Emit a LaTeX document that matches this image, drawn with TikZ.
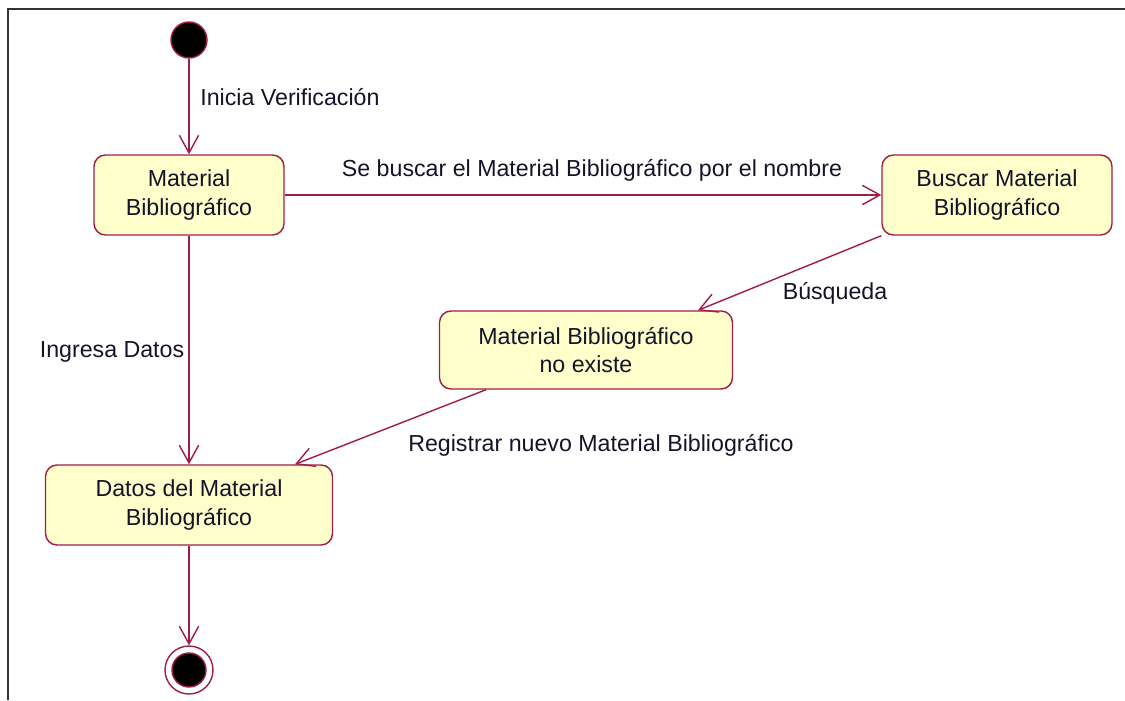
\documentclass[tikz,border=0pt]{standalone}
\usepackage{fontspec}
\setmainfont{Liberation Sans}
\usetikzlibrary{arrows.meta}
\definecolor{umlred}{RGB}{160,30,70}
\definecolor{umlfill}{RGB}{255,255,204}
\definecolor{txt}{RGB}{20,20,40}
\tikzset{
  state/.style={draw=umlred, fill=umlfill, line width=0.8pt, rounded corners=6.5pt,
    align=center, text=txt, font=\fontsize{13.2}{16}\selectfont, inner sep=0pt},
  lbl/.style={text=txt, font=\fontsize{13.2}{16}\selectfont, inner sep=0pt},
  trans/.style={draw=umlred, line width=0.8pt, -{Straight Barb[length=10pt,width=11pt,line width=0.8pt]}}
}
\begin{document}
\begin{tikzpicture}[x=0.02cm, y=-0.02cm]
\useasboundingbox (0,0) rectangle (1125,700);
\draw[line width=1.2pt, black!80] (1125,9) -- (8,9) -- (8,700);

\node[circle, fill=black, draw=umlred, line width=0.8pt, minimum size=36*0.02cm, inner sep=0pt] (start) at (189,40) {};
\node[state, minimum width=3.8cm, minimum height=1.6cm] (A) at (189,195) {Material\\Bibliográfico};
\node[state, minimum width=4.6cm, minimum height=1.6cm] (B) at (997,195) {Buscar Material\\Bibliográfico};
\node[state, minimum width=5.86cm, minimum height=1.56cm] (C) at (586,350) {Material Bibliográfico\\no existe};
\node[state, minimum width=5.74cm, minimum height=1.6cm] (D) at (189,505) {Datos del Material\\Bibliográfico};
\node[circle, fill=white, draw=umlred, line width=0.8pt, minimum size=48*0.02cm, inner sep=0pt] (endo) at (189,670) {};
\node[circle, fill=black, draw=umlred, line width=0.8pt, minimum size=34*0.02cm, inner sep=0pt] (endi) at (189,670) {};

\draw[trans] (start) -- (A);
\draw[trans] (A) -- (B);
\draw[trans] (B.south west) -- ([xshift=2.24cm]C.north);
\draw[trans] ([xshift=-2cm]C.south) -- ([xshift=2.12cm]D.north);
\draw[trans] (A) -- (D);
\draw[trans] (D) -- (endo);

\node[lbl, anchor=west] (l1) at (200,97) {Inicia Verificación};
\node[lbl] (l2) at (592,170) {Se buscar el Material Bibliográfico por el nombre};
\node[lbl] (l3) at (835,293) {Búsqueda};
\node[lbl] (l4) at (112,352) {Ingresa Datos};
\node[lbl] (l5) at (601,445) {Registrar nuevo Material Bibliográfico};
\end{tikzpicture}
\end{document}
